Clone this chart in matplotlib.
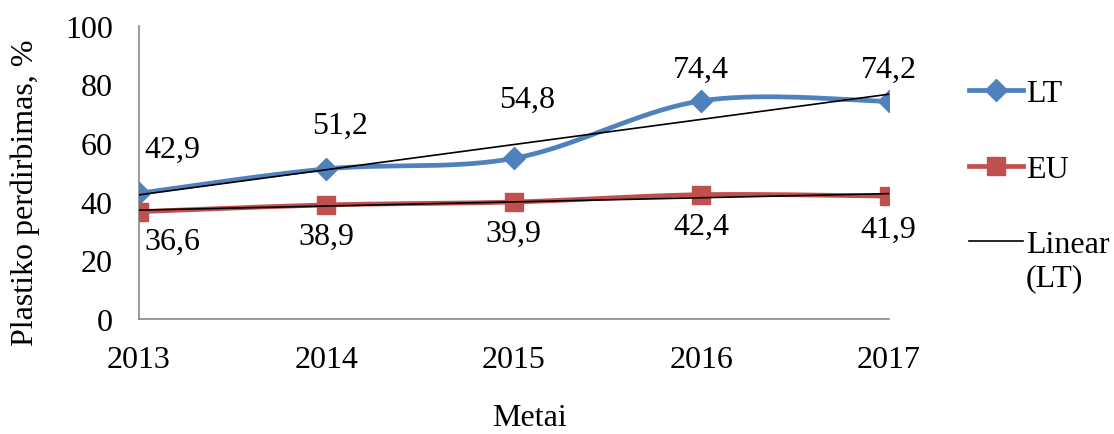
import numpy as np
import matplotlib
matplotlib.use("Agg")
import matplotlib.pyplot as plt

plt.rcParams["font.family"] = ["Liberation Serif", "DejaVu Serif"]
plt.rcParams["font.size"] = 23

# data
years = [2013, 2014, 2015, 2016, 2017]
lt_values = [42.9, 51.2, 54.8, 74.4, 74.2]
eu_values = [36.6, 38.9, 39.9, 42.4, 41.9]
y_ticks = [0, 20, 40, 60, 80, 100]

# label offsets in pixels (dx, dy), picked by eye
lt_offsets = [(33, 44), (14, 44), (13, 59), (0, 32), (0, 32)]
eu_offsets = [(33, -30), (0, -31), (0, -31), (0, -32), (0, -33)]

BLUE = "#4F81BD"
RED = "#C0504D"


def smooth(xs, ys, n=40):
    """Excel-like smoothed line (Catmull-Rom as cubic Bezier)."""
    xs = np.asarray(xs, float)
    ys = np.asarray(ys, float)
    px = np.concatenate([[xs[0]], xs, [xs[-1]]])
    py = np.concatenate([[ys[0]], ys, [ys[-1]]])
    out_x, out_y = [], []
    t = np.linspace(0, 1, n)
    for i in range(1, len(px) - 2):
        p0 = np.array([px[i], py[i]])
        p3 = np.array([px[i + 1], py[i + 1]])
        c1 = p0 + (np.array([px[i + 1], py[i + 1]]) - np.array([px[i - 1], py[i - 1]])) / 6
        c2 = p3 - (np.array([px[i + 2], py[i + 2]]) - np.array([px[i], py[i]])) / 6
        b = ((1 - t) ** 3)[:, None] * p0 + (3 * (1 - t) ** 2 * t)[:, None] * c1 \
            + (3 * (1 - t) * t ** 2)[:, None] * c2 + (t ** 3)[:, None] * p3
        out_x.extend(b[:, 0])
        out_y.extend(b[:, 1])
    return np.array(out_x), np.array(out_y)


fig = plt.figure(figsize=(11.14, 4.35), dpi=100)
ax = fig.add_axes([0.1248, 0.2644, 0.673, 0.674])

sx, sy = smooth(years, lt_values)
ax.plot(sx, sy, color=BLUE, lw=3.4, solid_capstyle="round", zorder=3)
ax.plot(years, lt_values, ls="none", marker="D", ms=11, color=BLUE, zorder=4)

sx, sy = smooth(years, eu_values)
ax.plot(sx, sy, color=RED, lw=3.4, solid_capstyle="round", zorder=3)
ax.plot(years, eu_values, ls="none", marker="s", ms=13, color=RED, zorder=4)

# linear trend lines
x = np.array(years, float)
k, b = np.polyfit(x, lt_values, 1)
ax.plot(x, k * x + b, color="black", lw=1.2, zorder=5)
k2, b2 = np.polyfit(x, eu_values, 1)
ax.plot(x, k2 * x + b2, color="black", lw=1.2, zorder=5)

for xv, yv, (dx, dy) in zip(years, lt_values, lt_offsets):
    ax.annotate(f"{yv:.1f}".replace(".", ","), (xv, yv), xytext=(dx * 0.72, dy * 0.72),
                textcoords="offset points", ha="center", va="center")
for xv, yv, (dx, dy) in zip(years, eu_values, eu_offsets):
    ax.annotate(f"{yv:.1f}".replace(".", ","), (xv, yv), xytext=(dx * 0.72, dy * 0.72),
                textcoords="offset points", ha="center", va="center")

ax.set_xlim(2013, 2017)
ax.set_ylim(0, 100)
ax.set_xticks(years)
ax.set_yticks(y_ticks)
ax.tick_params(length=0)
ax.tick_params(axis="x", pad=19)
ax.tick_params(axis="y", pad=19)
for s in ["top", "right"]:
    ax.spines[s].set_visible(False)
for s in ["left", "bottom"]:
    ax.spines[s].set_color("#888888")
    ax.spines[s].set_linewidth(1.2)
for t in ax.get_xticklabels() + ax.get_yticklabels():
    t.set_clip_on(False)

ax.set_ylabel("Plastiko perdirbimas, %", va="center")
ax.yaxis.set_label_coords(-0.152, 0.433)
ax.set_xlabel("Metai", va="center")
ax.xaxis.set_label_coords(0.521, -0.335)

h1 = plt.Line2D([], [], color=BLUE, lw=3.4, marker="D", ms=11)
h2 = plt.Line2D([], [], color=RED, lw=3.4, marker="s", ms=13)
h3 = plt.Line2D([], [], color="black", lw=1.2)
leg = fig.legend([h1, h2, h3], ["LT", "EU", "Linear"], loc="upper left",
                 bbox_to_anchor=(0.858, 0.846), frameon=False, handlelength=1.7,
                 handletextpad=0.1, labelspacing=1.45, borderaxespad=0)
# second line of the trend label, under "Linear"
fig.canvas.draw()
ax.annotate("(LT)", xy=(0, 0), xycoords=leg.get_texts()[2], xytext=(0, -3),
            textcoords="offset points", ha="left", va="top")

fig.savefig("out.png", dpi=100)
